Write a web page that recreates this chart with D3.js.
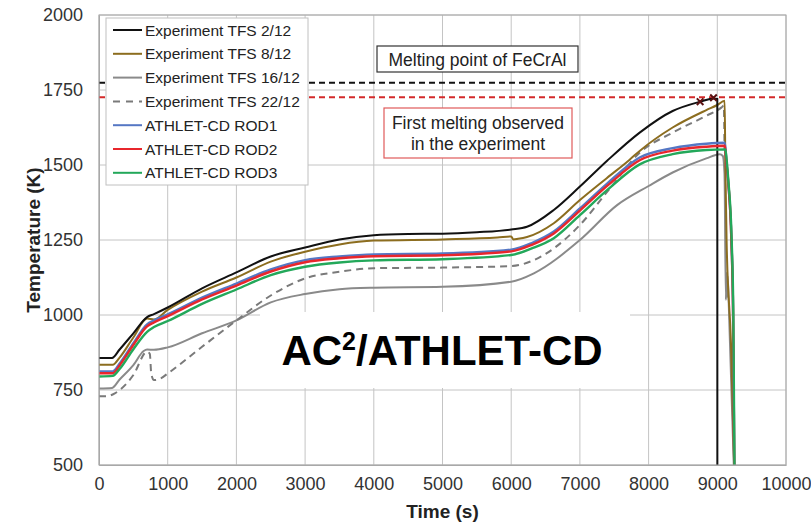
<!DOCTYPE html>
<html>
<head>
<meta charset="utf-8">
<script src="https://cdn.jsdelivr.net/npm/d3@7"></script>
<style>
  body { margin: 0; background: #fff; }
  svg { font-family: "Liberation Sans", Arial, sans-serif; }
</style>
</head>
<body>
<div id="chart"></div>
<script>
// readings from the reference (time s, temperature K)
const tfs2 = [[0,857],[190,857],[300,885],[500,939],[700,993],[800,1003],[1000,1025],[1500,1089],[2000,1142],[2500,1195],[3000,1225],[3500,1252],[4000,1266],[4500,1270],[5000,1271],[5500,1276],[6000,1285],[6230,1294],[6620,1350],[7000,1428],[7400,1515],[7870,1608],[8350,1680],[8750,1711],[8950,1722],[9000,1720],[9001,500]];
const tfs8 = [[0,834],[200,834],[300,858],[500,925],[700,988],[800,985],[1000,1017],[1500,1078],[2000,1125],[2500,1178],[3000,1211],[3500,1235],[4000,1248],[5000,1252],[5800,1258],[6000,1262],[6030,1252],[6100,1254],[6230,1260],[6620,1306],[7000,1383],[7390,1456],[7720,1517],[7870,1547],[8350,1625],[8840,1683],[9000,1700],[9107,1714],[9117,1500],[9135,1250],[9200,900],[9245,500]];
const tfs16 = [[0,755],[190,757],[300,785],[500,833],[650,880],[700,885],[800,884],[1000,892],[1500,939],[2000,982],[2500,1042],[3000,1070],[3500,1086],[4000,1091],[5000,1094],[6000,1111],[6330,1139],[7000,1250],[7546,1367],[8000,1430],[8350,1475],[8840,1522],[9035,1536],[9080,1530],[9105,1470],[9125,1050],[9135,1140],[9142,1060],[9150,1130],[9165,1050],[9240,500]];
const tfs22 = [[0,729],[100,729],[230,739],[500,800],[700,878],[740,870],[760,806],[800,783],[900,789],[1000,805],[1500,894],[2000,982],[2500,1065],[3000,1122],[3500,1144],[4000,1156],[5000,1158],[6000,1163],[6330,1183],[6620,1222],[7000,1300],[7430,1420],[7870,1541],[8350,1608],[8840,1664],[9063,1692],[9095,1698],[9105,1550]];
const rod1 = [[0,812],[200,812],[300,838],[500,906],[700,969],[800,982],[1000,1002],[1500,1058],[2000,1105],[2500,1152],[3000,1183],[3500,1195],[4000,1202],[5000,1205],[6000,1218],[6300,1240],[6620,1278],[7000,1355],[7400,1439],[7870,1525],[8350,1556],[8840,1571],[9110,1574],[9130,1520],[9160,1440],[9205,1250],[9230,1000],[9247,500]];
const rod2 = [[0,806],[200,806],[300,832],[500,900],[700,962],[800,975],[1000,996],[1500,1052],[2000,1098],[2500,1145],[3000,1176],[3500,1189],[4000,1196],[5000,1199],[6000,1212],[6300,1234],[6620,1272],[7000,1348],[7400,1431],[7870,1516],[8350,1548],[8840,1561],[9110,1564],[9130,1515],[9160,1440],[9205,1250],[9230,1000],[9247,500]];
const rod3 = [[0,795],[200,797],[300,820],[500,886],[700,944],[800,960],[1000,980],[1500,1037],[2000,1085],[2500,1133],[3000,1161],[3500,1175],[4000,1182],[5000,1186],[6000,1200],[6300,1222],[6620,1256],[7000,1333],[7400,1417],[7870,1502],[8350,1536],[8840,1550],[9118,1552],[9135,1520],[9160,1450],[9209,1250],[9233,1007],[9250,500]];
const tfs2Marks = [[8750,1711],[8945,1724]];

const meltFeCrAl = 1774;
const firstMelt = 1726;

const xTicks = [0,1000,2000,3000,4000,5000,6000,7000,8000,9000,10000];
const yTicks = [500,750,1000,1250,1500,1750,2000];

const series = [
  { name: "Experiment TFS 2/12",  data: tfs2,  color: "#111111", dash: null },
  { name: "Experiment TFS 8/12",  data: tfs8,  color: "#8c6d1f", dash: null },
  { name: "Experiment TFS 16/12", data: tfs16, color: "#8a8a8a", dash: null },
  { name: "Experiment TFS 22/12", data: tfs22, color: "#7a7a7a", dash: "7,5" },
  { name: "ATHLET-CD ROD1",       data: rod1,  color: "#5577c4", dash: null },
  { name: "ATHLET-CD ROD2",       data: rod2,  color: "#e8262c", dash: null },
  { name: "ATHLET-CD ROD3",       data: rod3,  color: "#23a85a", dash: null }
];

const W = 811, H = 523;
const svg = d3.select("#chart").append("svg")
  .attr("width", W).attr("height", H);

const m = { left: 99, right: 786, top: 15, bottom: 465 };

const x = d3.scaleLinear().domain([0, 10000]).range([m.left, m.right]);
const y = d3.scaleLinear().domain([500, 2000]).range([m.bottom, m.top]);

// gridlines
svg.append("g")
  .selectAll("line").data(xTicks).join("line")
  .attr("x1", d => x(d)).attr("x2", d => x(d))
  .attr("y1", m.top).attr("y2", m.bottom)
  .attr("stroke", "#c4c4c4").attr("stroke-width", 1);
svg.append("g")
  .selectAll("line").data(yTicks).join("line")
  .attr("x1", m.left).attr("x2", m.right)
  .attr("y1", d => y(d)).attr("y2", d => y(d))
  .attr("stroke", "#c4c4c4").attr("stroke-width", 1);

// axes (labels only)
const xAxis = svg.append("g")
  .attr("transform", `translate(0,${m.bottom})`)
  .call(d3.axisBottom(x).tickValues(xTicks).tickSize(0).tickPadding(12).tickFormat(d3.format("d")));
const yAxis = svg.append("g")
  .attr("transform", `translate(${m.left},0)`)
  .call(d3.axisLeft(y).tickValues(yTicks).tickSize(0).tickPadding(16).tickFormat(d3.format("d")));
[xAxis, yAxis].forEach(a => {
  a.select(".domain").attr("stroke", "#a8a8a8");
  a.selectAll("text").attr("font-size", "18px").attr("fill", "#333")
    .attr("font-family", "Liberation Sans, Arial, sans-serif");
});

// reference lines
svg.append("line")
  .attr("x1", m.left).attr("x2", m.right)
  .attr("y1", y(meltFeCrAl)).attr("y2", y(meltFeCrAl))
  .attr("stroke", "#111").attr("stroke-width", 2).attr("stroke-dasharray", "6,4");
svg.append("line")
  .attr("x1", m.left).attr("x2", m.right)
  .attr("y1", y(firstMelt)).attr("y2", y(firstMelt))
  .attr("stroke", "#d42a2a").attr("stroke-width", 2).attr("stroke-dasharray", "6,4");

// curves
const line = d3.line()
  .x(d => x(d[0]))
  .y(d => y(d[1]))
  .curve(d3.curveMonotoneX);

const drawOrder = [2, 3, 1, 0, 4, 5, 6];
drawOrder.forEach(i => {
  const s = series[i];
  svg.append("path")
    .datum(s.data)
    .attr("fill", "none")
    .attr("stroke", s.color)
    .attr("stroke-width", i >= 4 ? 2.4 : 2)
    .attr("stroke-dasharray", s.dash)
    .attr("d", line);
});

// markers on TFS 2/12
svg.append("g").selectAll("path").data(tfs2Marks).join("path")
  .attr("transform", d => `translate(${x(d[0])},${y(d[1])})`)
  .attr("d", d3.symbol(d3.symbolX, 30))
  .attr("stroke", "#5a1010").attr("stroke-width", 2).attr("fill", "none");

// plot frame
svg.append("rect")
  .attr("x", m.left).attr("y", m.top)
  .attr("width", m.right - m.left).attr("height", m.bottom - m.top)
  .attr("fill", "none").attr("stroke", "#a8a8a8");

// legend
const lg = svg.append("g");
lg.append("rect")
  .attr("x", 106).attr("y", 18).attr("width", 202).attr("height", 167)
  .attr("fill", "#fff").attr("stroke", "#c0c0c0");
series.forEach((s, i) => {
  const ly = 30 + i * 23.8;
  lg.append("line")
    .attr("x1", 113).attr("x2", 142).attr("y1", ly).attr("y2", ly)
    .attr("stroke", s.color).attr("stroke-width", 2)
    .attr("stroke-dasharray", s.dash ? "7,6" : null);
  lg.append("text")
    .attr("x", 145).attr("y", ly + 5.5)
    .attr("font-size", "15.5px").attr("fill", "#222")
    .text(s.name);
});

// annotation boxes
svg.append("rect")
  .attr("x", 377).attr("y", 46).attr("width", 201).attr("height", 26)
  .attr("fill", "#fff").attr("stroke", "#333").attr("stroke-width", 1.2);
svg.append("text")
  .attr("x", 477.5).attr("y", 65.5).attr("text-anchor", "middle")
  .attr("font-size", "17.5px").attr("fill", "#222")
  .text("Melting point of FeCrAl");

svg.append("rect")
  .attr("x", 384).attr("y", 108).attr("width", 188).attr("height", 50)
  .attr("fill", "#fff").attr("stroke", "#e05a5a").attr("stroke-width", 1.2);
svg.append("text")
  .attr("x", 478).attr("y", 128.5).attr("text-anchor", "middle")
  .attr("font-size", "17.5px").attr("fill", "#222")
  .text("First melting observed");
svg.append("text")
  .attr("x", 478).attr("y", 149.5).attr("text-anchor", "middle")
  .attr("font-size", "17.5px").attr("fill", "#222")
  .text("in the experiment");

// big code label
svg.append("rect")
  .attr("x", 260).attr("y", 312).attr("width", 370).attr("height", 76)
  .attr("fill", "#fff");
const big = svg.append("text")
  .attr("x", 442).attr("y", 365).attr("text-anchor", "middle")
  .attr("font-size", "42px").attr("font-weight", "bold").attr("fill", "#000");
big.append("tspan").text("AC");
big.append("tspan").attr("font-size", "25px").attr("dy", -15).text("2");
big.append("tspan").attr("dy", 15).text("/ATHLET-CD");

// axis titles
svg.append("text")
  .attr("x", (m.left + m.right) / 2).attr("y", 518)
  .attr("text-anchor", "middle")
  .attr("font-size", "19px").attr("font-weight", "bold").attr("fill", "#222")
  .text("Time (s)");
svg.append("text")
  .attr("transform", `translate(40,${(m.top + m.bottom) / 2}) rotate(-90)`)
  .attr("text-anchor", "middle")
  .attr("font-size", "19px").attr("font-weight", "bold").attr("fill", "#222")
  .text("Temperature (K)");
</script>
</body>
</html>
